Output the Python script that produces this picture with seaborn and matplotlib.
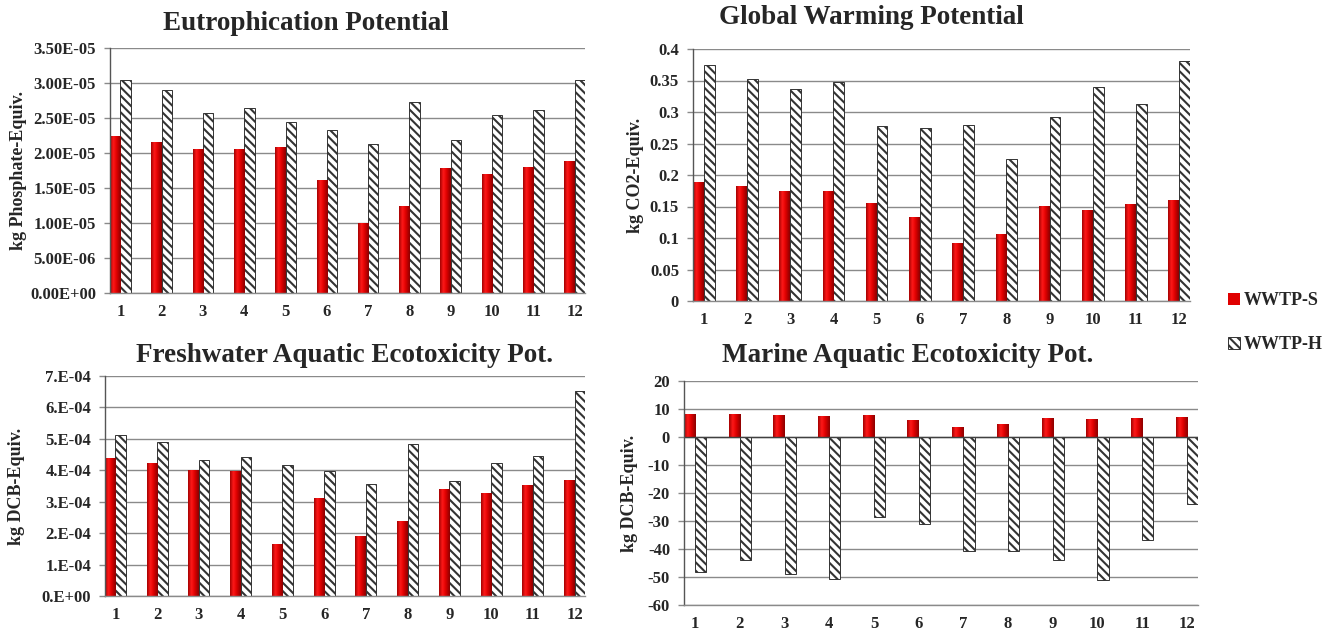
import numpy as np
import pandas as pd
import matplotlib
matplotlib.use("Agg")
import matplotlib.pyplot as plt
import seaborn as sns
from matplotlib.colors import LinearSegmentedColormap
from matplotlib.patches import Patch

# Scenario numbers on the x axis and the two plant configurations
cases = ["1", "2", "3", "4", "5", "6", "7", "8", "9", "10", "11", "12"]
series = ["WWTP-S", "WWTP-H"]

# Eutrophication potential (kg phosphate-equiv.)
eutro_s = [2.24e-5, 2.16e-5, 2.06e-5, 2.06e-5, 2.09e-5, 1.61e-5,
           1.00e-5, 1.25e-5, 1.79e-5, 1.70e-5, 1.80e-5, 1.89e-5]
eutro_h = [3.04e-5, 2.90e-5, 2.57e-5, 2.64e-5, 2.45e-5, 2.33e-5,
           2.13e-5, 2.73e-5, 2.19e-5, 2.54e-5, 2.62e-5, 3.05e-5]
eutro_ticks = [0, 5e-6, 1e-5, 1.5e-5, 2e-5, 2.5e-5, 3e-5, 3.5e-5]

# Global warming potential (kg CO2-equiv.)
gwp_s = [0.189, 0.182, 0.175, 0.175, 0.155, 0.134,
         0.092, 0.106, 0.151, 0.145, 0.154, 0.161]
gwp_h = [0.374, 0.353, 0.337, 0.347, 0.278, 0.275,
         0.279, 0.225, 0.292, 0.340, 0.313, 0.381]
gwp_ticks = [0, 0.05, 0.1, 0.15, 0.2, 0.25, 0.3, 0.35, 0.4]

# Freshwater aquatic ecotoxicity potential (kg DCB-equiv.)
faetp_s = [4.38e-4, 4.22e-4, 4.02e-4, 3.98e-4, 1.67e-4, 3.12e-4,
           1.91e-4, 2.39e-4, 3.41e-4, 3.28e-4, 3.53e-4, 3.69e-4]
faetp_h = [5.13e-4, 4.89e-4, 4.33e-4, 4.43e-4, 4.17e-4, 3.97e-4,
           3.57e-4, 4.83e-4, 3.65e-4, 4.24e-4, 4.46e-4, 6.51e-4]
faetp_ticks = [0, 1e-4, 2e-4, 3e-4, 4e-4, 5e-4, 6e-4, 7e-4]

# Marine aquatic ecotoxicity potential (kg DCB-equiv.)
maetp_s = [8.3, 8.1, 7.9, 7.6, 7.9, 6.0, 3.7, 4.5, 6.8, 6.4, 6.8, 7.0]
maetp_h = [-48.2, -44.0, -48.8, -50.6, -28.6, -31.0,
           -40.7, -40.7, -44.0, -51.2, -36.9, -24.0]
maetp_ticks = [-60, -50, -40, -30, -20, -10, 0, 10, 20]

sns.set_theme(style="white")
plt.rcParams["font.family"] = ["Liberation Serif", "DejaVu Serif"]
plt.rcParams["font.weight"] = "bold"
plt.rcParams["hatch.linewidth"] = 1.5

W, H = 1334, 632
fig = plt.figure(figsize=(W / 100, H / 100), dpi=100)

RED = "#e00000"
HATCH = "\\\\\\\\"
EDGE = "#333333"
GRID = "#8a8a8a"
TICK_SIZE = 12

shade = LinearSegmentedColormap.from_list(
    "bar_shade",
    [(0.0, "#a00000"), (0.3, "#ff1a1a"), (0.6, "#e00000"), (1.0, "#8a0000")])
ramp = np.linspace(0, 1, 64).reshape(1, -1)


def px_rect(left, top, right, bottom):
    return [left / W, 1 - bottom / H, (right - left) / W, (bottom - top) / H]


def draw_panel(rect, s_vals, h_vals, ticks, fmt, title, title_xy,
               ylabel, ylabel_x, zero_line=False):
    ax = fig.add_axes(rect)
    df = pd.DataFrame({
        "case": cases * 2,
        "value": list(s_vals) + list(h_vals),
        "plant": [series[0]] * len(cases) + [series[1]] * len(cases),
    })
    sns.barplot(data=df, x="case", y="value", hue="plant", order=cases,
                hue_order=series, palette=[RED, "white"], width=0.5,
                saturation=1, errorbar=None, legend=False, ax=ax)

    red_bars, hatched_bars = ax.containers[0], ax.containers[1]
    for bar in red_bars:
        bar.set_linewidth(0)
        x0, y0 = bar.get_x(), bar.get_y()
        w, h = bar.get_width(), bar.get_height()
        im = ax.imshow(ramp, cmap=shade, aspect="auto",
                       interpolation="bicubic",
                       extent=(x0, x0 + w, min(y0, y0 + h), max(y0, y0 + h)),
                       zorder=bar.get_zorder() + 0.1)
        im.set_clip_path(bar)
    for bar in hatched_bars:
        bar.set_facecolor("white")
        bar.set_edgecolor(EDGE)
        bar.set_linewidth(0.7)
        bar.set_hatch(HATCH)

    ax.set_xlim(-0.25, len(cases) - 0.75)
    ax.set_ylim(ticks[0], ticks[-1])
    ax.set_yticks(ticks)
    ax.set_yticklabels([fmt(t) for t in ticks])
    ax.set_xlabel("")
    ax.set_ylabel("")

    ax.set_axisbelow(True)
    ax.yaxis.grid(True, color=GRID, linewidth=1.0)
    ax.xaxis.grid(False)
    for side in ("top", "right"):
        ax.spines[side].set_visible(False)
    ax.spines["left"].set_color("#555555")
    ax.spines["bottom"].set_color(GRID)
    ax.spines["left"].set_linewidth(1.0)
    ax.spines["bottom"].set_linewidth(1.0)
    if zero_line:
        ax.axhline(0, color="#404040", linewidth=1.0, zorder=1.5)

    ax.tick_params(axis="y", left=True, length=4, width=1, color=GRID,
                   direction="out", pad=6, labelsize=TICK_SIZE)
    ax.tick_params(axis="x", bottom=False, length=0, pad=8,
                   labelsize=TICK_SIZE)
    for lab in ax.get_xticklabels() + ax.get_yticklabels():
        lab.set_fontweight("bold")

    fig.text(title_xy[0] / W, 1 - title_xy[1] / H, title, ha="center",
             va="center", fontsize=19.5, fontweight="bold")
    yc = rect[1] + rect[3] / 2
    fig.text(ylabel_x / W, yc, ylabel, rotation=90, ha="center", va="center",
             fontsize=13, fontweight="bold")
    return ax


draw_panel(px_rect(110, 48, 585, 293), eutro_s, eutro_h, eutro_ticks,
           lambda v: f"{v:.2E}", "Eutrophication Potential", (306, 23),
           "kg Phosphate-Equiv.", 19)

draw_panel(px_rect(693, 49, 1190, 301), gwp_s, gwp_h, gwp_ticks,
           lambda v: f"{v:g}", "Global Warming Potential", (871, 17),
           "kg CO2-Equiv.", 635)

draw_panel(px_rect(105, 376, 585, 596), faetp_s, faetp_h, faetp_ticks,
           lambda v: f"{v:#.0E}", "Freshwater Aquatic Ecotoxicity Pot.",
           (345, 355), "kg DCB-Equiv.", 17)

draw_panel(px_rect(684, 381, 1198, 605), maetp_s, maetp_h, maetp_ticks,
           lambda v: f"{v:g}", "Marine Aquatic Ecotoxicity Pot.",
           (908, 356), "kg DCB-Equiv.", 630, zero_line=True)

handles = [Patch(facecolor=RED, edgecolor="none"),
           Patch(facecolor="white", edgecolor=EDGE, hatch=HATCH, linewidth=0.7)]
fig.legend(handles=handles, labels=series, loc="upper left",
           bbox_to_anchor=(1228 / W, 1 - 292 / H), frameon=False,
           handlelength=0.65, handleheight=0.65, handletextpad=0.2,
           labelspacing=1.5, borderpad=0, borderaxespad=0,
           prop={"family": "Liberation Serif", "weight": "bold", "size": 13})

fig.savefig("out.png", dpi=100)
